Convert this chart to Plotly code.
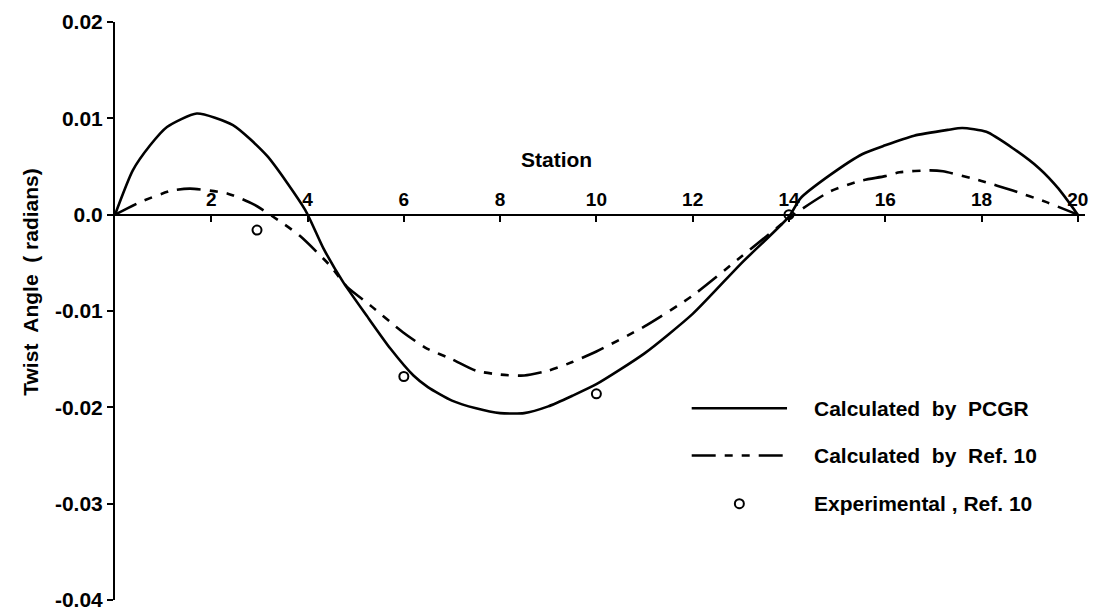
import plotly.graph_objects as go

# ---------------- data ----------------
pcgr_station = [0, 0.37, 0.73, 1.08, 1.7, 2.45, 3.16, 3.95, 4.33, 4.74, 5.23, 5.72,
                6.2, 6.5, 7.0, 7.5, 8.0, 8.5, 9.0, 9.5, 10.0, 11.0, 12.0, 13.0, 14.0,
                14.24, 14.85, 15.53, 16.0, 16.6, 17.3, 17.6, 18.1, 18.65, 19.2, 19.6, 20.0]
pcgr_twist = [0.0, 0.0046, 0.0072, 0.0091, 0.0105, 0.0093, 0.0061, 0.0005, -0.0035, -0.0070,
              -0.0105, -0.0139, -0.0167, -0.0179, -0.0193, -0.0201, -0.0206, -0.0206, -0.0199,
              -0.0188, -0.0176, -0.0144, -0.0103, -0.0051, -0.0002,
              0.0017, 0.0041, 0.0063, 0.0072, 0.0082, 0.0088, 0.0090, 0.0086, 0.0069, 0.0048,
              0.0027, 0.0]

ref10_station = [0, 0.52, 1.18, 1.56, 2.33, 2.87, 3.43, 3.84, 4.47, 4.82, 5.3, 5.98, 6.48,
                 7.0, 7.5, 8.0, 8.5, 9.0, 9.5, 10.0, 11.0, 12.0, 13.0, 14.1,
                 14.85, 15.47, 16.0, 16.3, 16.93, 17.2, 18.0, 18.65, 19.35, 20.0]
ref10_twist = [0.0, 0.0013, 0.0025, 0.0027, 0.0022, 0.0011, -0.0007, -0.0022, -0.0053, -0.0075,
               -0.0094, -0.0122, -0.0139, -0.0150, -0.0162, -0.0166, -0.0167, -0.0162, -0.0153,
               -0.0142, -0.0116, -0.0084, -0.0044, 0.0,
               0.0024, 0.0035, 0.0040, 0.0044, 0.0046, 0.0045, 0.0035, 0.0025, 0.0013, 0.0]

exp_station = [2.95, 6.0, 10.0, 14.0]
exp_twist = [-0.0016, -0.0168, -0.0186, 0.0]

x_tickvals = [2, 4, 6, 8, 10, 12, 14, 16, 18, 20]
x_ticktext = ["2", "4", "6", "8", "10", "12", "14", "16", "18", "20"]
y_tickvals = [0.02, 0.01, 0.0, -0.01, -0.02, -0.03, -0.04]
y_ticktext = ["0.02", "0.01", "0.0", "-0.01", "-0.02", "-0.03", "-0.04"]

legend_labels = ["Calculated\u00a0 by\u00a0 PCGR",
                 "Calculated\u00a0 by\u00a0 Ref.\u00a010",
                 "Experimental\u00a0, Ref.\u00a010"]

FONT = "Liberation Sans"
DASH = "24px,9px,8px,9px,8px,9px"

fig = go.Figure()
fig.add_trace(go.Scatter(x=pcgr_station, y=pcgr_twist, mode="lines",
                         line=dict(color="black", width=2.6, shape="spline", smoothing=0.6),
                         showlegend=False, name=legend_labels[0]))
fig.add_trace(go.Scatter(x=ref10_station, y=ref10_twist, mode="lines",
                         line=dict(color="black", width=2.6, shape="spline", smoothing=0.6,
                                   dash=DASH),
                         showlegend=False, name=legend_labels[1]))
fig.add_trace(go.Scatter(x=exp_station, y=exp_twist, mode="markers",
                         marker=dict(symbol="circle-open", size=9, color="black",
                                     line=dict(width=2, color="black")),
                         showlegend=False, name=legend_labels[2]))

# ---------------- hand-drawn style legend ----------------
leg_x0, leg_x1, leg_text_x = 11.98, 13.96, 14.48
leg_y = [-0.0201, -0.0250, -0.0300]
fig.add_shape(type="line", x0=leg_x0, x1=leg_x1, y0=leg_y[0], y1=leg_y[0],
              line=dict(color="black", width=2.6))
fig.add_shape(type="line", x0=leg_x0, x1=leg_x1, y0=leg_y[1], y1=leg_y[1],
              line=dict(color="black", width=2.6, dash=DASH))
fig.add_trace(go.Scatter(x=[(leg_x0 + leg_x1) / 2], y=[leg_y[2]], mode="markers",
                         marker=dict(symbol="circle-open", size=9, color="black",
                                     line=dict(width=2, color="black")),
                         showlegend=False, hoverinfo="skip"))
for lab, yy in zip(legend_labels, leg_y):
    fig.add_annotation(x=leg_text_x, y=yy, text=lab, showarrow=False, xanchor="left",
                       yanchor="middle", font=dict(family=FONT, size=21, color="black",
                                                   weight="bold"))

# axis titles as free text
fig.add_annotation(x=9.18, y=0.0057, text="Station", showarrow=False,
                   font=dict(family=FONT, size=21, color="black", weight="bold"))
fig.add_annotation(xref="paper", yref="paper", x=-0.088, y=0.55,
                   text="Twist\u00a0 Angle\u00a0 (\u00a0radians)", textangle=-90,
                   showarrow=False, xanchor="center", yanchor="middle",
                   font=dict(family=FONT, size=21, color="black", weight="bold"))

# page body adds an 8px margin; figure sized so the plot lands where the reference has it
fig.update_layout(
    width=1100, height=605,
    margin=dict(l=107, r=23, t=14, b=13),
    paper_bgcolor="white", plot_bgcolor="white",
    showlegend=False,
    xaxis=dict(range=[0, 20.15], anchor="free", position=0.04 / 0.06, side="top",
               automargin=False,
               showline=True, linecolor="black", linewidth=2,
               ticks="inside", ticklen=6, tickwidth=2, tickcolor="black",
               tickvals=x_tickvals, ticktext=x_ticktext,
               tickfont=dict(family=FONT, size=19, color="black", weight="bold"),
               showgrid=False, zeroline=False),
    yaxis=dict(range=[-0.04, 0.02], automargin=False,
               showline=True, linecolor="black", linewidth=2,
               ticks="outside", ticklen=6, tickwidth=2, tickcolor="black",
               tickvals=y_tickvals, ticktext=y_ticktext,
               tickfont=dict(family=FONT, size=21, color="black", weight="bold"),
               showgrid=False, zeroline=False),
)

fig.write_html("out.html")
